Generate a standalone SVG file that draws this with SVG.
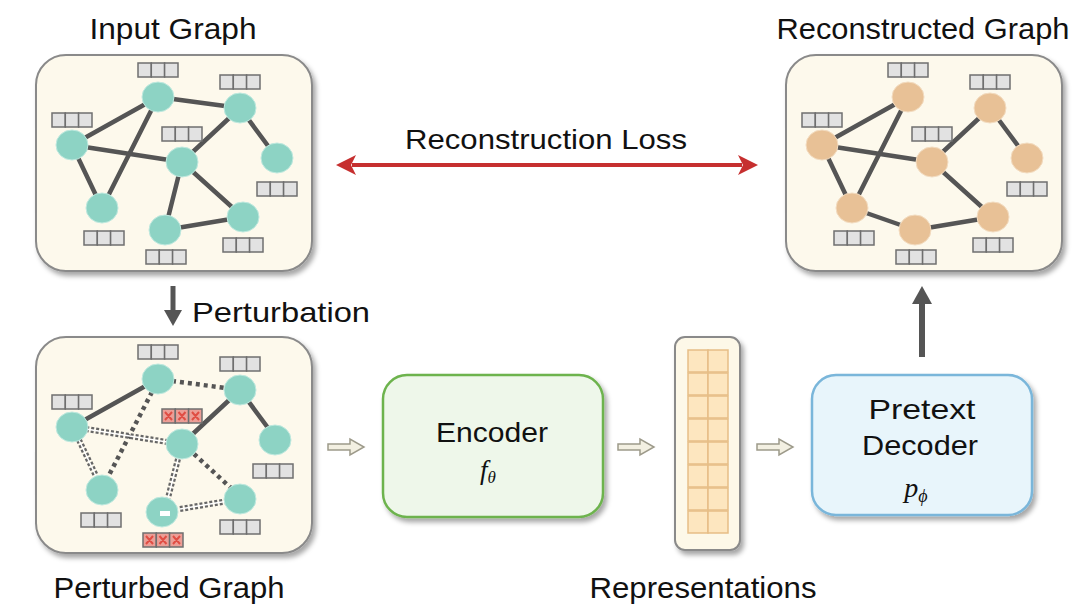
<svg xmlns="http://www.w3.org/2000/svg" xmlns:xlink="http://www.w3.org/1999/xlink" width="1076" height="605" viewBox="0 0 1076 605">
<style>
  .title { font-family: "Comic Sans MS", "Liberation Sans", sans-serif; font-size: 29px; fill: #111; text-anchor: middle; }
  .lbl { font-family: "Comic Sans MS", "Liberation Sans", sans-serif; font-size: 28px; fill: #111; text-anchor: middle; }
  .panel { fill: #fdf9ec; stroke: #8a8a8a; stroke-width: 2; filter: url(#shadow); }
  .edge { stroke: #555; stroke-width: 4.5; stroke-linecap: round; fill: none; }
  .dot { stroke: #555; stroke-width: 4.5; stroke-dasharray: 4 4; fill: none; }
  .hatch { stroke: #666; stroke-width: 6; stroke-dasharray: 3 2; fill: none; }
  .hatchw { stroke: #fff; stroke-width: 1.5; fill: none; }
  .tn { fill: #8dd3c4; stroke: #bfe9df; stroke-width: 1; }
  .on { fill: #e8c196; stroke: #f3dcc0; stroke-width: 1; }
  .cell { fill: #e2e2e2; stroke: #6f6f6f; stroke-width: 1.5; }
  .xcell { fill: #ec9e96; stroke: #6f6f6f; stroke-width: 1.5; }
  .xm { stroke: #e04e44; stroke-width: 2; }
  .hollow { fill: #f3f0e2; stroke: #9d9a8a; stroke-width: 1.5; }
  .rcell { fill: #fde6bf; stroke: #e6bd86; stroke-width: 1.5; }
</style>
<defs>
  <filter id="shadow" x="-10%" y="-10%" width="125%" height="125%">
    <feDropShadow dx="3" dy="4" stdDeviation="2.5" flood-color="#000" flood-opacity="0.35"/>
  </filter>
  <g id="feat">
    <rect class="cell" x="0" y="0" width="13.3" height="14"/>
    <rect class="cell" x="13.3" y="0" width="13.3" height="14"/>
    <rect class="cell" x="26.6" y="0" width="13.4" height="14"/>
  </g>
  <g id="featx">
    <rect class="xcell" x="0" y="0" width="13.3" height="14"/>
    <rect class="xcell" x="13.3" y="0" width="13.3" height="14"/>
    <rect class="xcell" x="26.6" y="0" width="13.4" height="14"/>
    <path class="xm" d="M3,3 L10,11 M10,3 L3,11 M16.5,3 L23.5,11 M23.5,3 L16.5,11 M30,3 L37,11 M37,3 L30,11"/>
  </g>
  <path id="harrow" class="hollow" d="M0,-3 H22 V-8 L36,0 L22,8 V3 H0 Z"/>
  <marker id="redhead" viewBox="0 0 10 10" refX="2" refY="5" markerWidth="5" markerHeight="5" orient="auto-start-reverse">
    <path d="M0,0 L10,5 L0,10 L2.5,5 Z" fill="#c62f2f"/>
  </marker>
</defs>

<rect width="1076" height="605" fill="#ffffff"/>

<!-- Titles -->
<text class="title" x="173" y="39" textLength="167" lengthAdjust="spacingAndGlyphs">Input Graph</text>
<text class="title" x="923" y="39" textLength="293" lengthAdjust="spacingAndGlyphs">Reconstructed Graph</text>
<text class="title" x="169" y="598" textLength="231" lengthAdjust="spacingAndGlyphs">Perturbed Graph</text>
<text class="title" x="703" y="598" textLength="227" lengthAdjust="spacingAndGlyphs">Representations</text>

<!-- Input Graph -->
<g id="input-graph">
  <rect class="panel" x="36" y="55" width="276" height="216" rx="30"/>
  <g id="input-edges">
    <line class="edge" x1="158" y1="97" x2="240" y2="108"/>
    <line class="edge" x1="158" y1="97" x2="72" y2="145"/>
    <line class="edge" x1="158" y1="97" x2="102" y2="208"/>
    <line class="edge" x1="72" y1="145" x2="182" y2="162"/>
    <line class="edge" x1="72" y1="145" x2="102" y2="208"/>
    <line class="edge" x1="182" y1="162" x2="240" y2="108"/>
    <line class="edge" x1="182" y1="162" x2="165" y2="230"/>
    <line class="edge" x1="182" y1="162" x2="243" y2="217"/>
    <line class="edge" x1="240" y1="108" x2="277" y2="158"/>
    <line class="edge" x1="165" y1="230" x2="243" y2="217"/>
  </g>
  <g id="in-A"><ellipse class="tn" cx="158" cy="97" rx="16" ry="15"/><use href="#feat" x="138" y="63"/></g>
  <g id="in-B"><ellipse class="tn" cx="240" cy="108" rx="16" ry="15"/><use href="#feat" x="220" y="75"/></g>
  <g id="in-C"><ellipse class="tn" cx="72" cy="145" rx="16" ry="15"/><use href="#feat" x="52" y="113"/></g>
  <g id="in-D"><ellipse class="tn" cx="182" cy="162" rx="16" ry="15"/><use href="#feat" x="162" y="127"/></g>
  <g id="in-E"><ellipse class="tn" cx="277" cy="158" rx="16" ry="15"/><use href="#feat" x="257" y="182"/></g>
  <g id="in-F"><ellipse class="tn" cx="102" cy="208" rx="16" ry="15"/><use href="#feat" x="84" y="231"/></g>
  <g id="in-G"><ellipse class="tn" cx="165" cy="230" rx="16" ry="15"/><use href="#feat" x="146" y="250"/></g>
  <g id="in-H"><ellipse class="tn" cx="243" cy="217" rx="16" ry="15"/><use href="#feat" x="223" y="238"/></g>
</g>

<!-- Reconstructed Graph -->
<g id="reconstructed-graph" transform="translate(750,0)">
  <rect class="panel" x="36" y="55" width="276" height="216" rx="30"/>
  <g id="rec-edges">
    <line class="edge" x1="158" y1="97" x2="72" y2="145"/>
    <line class="edge" x1="158" y1="97" x2="102" y2="208"/>
    <line class="edge" x1="72" y1="145" x2="182" y2="162"/>
    <line class="edge" x1="72" y1="145" x2="102" y2="208"/>
    <line class="edge" x1="182" y1="162" x2="240" y2="108"/>
    <line class="edge" x1="182" y1="162" x2="243" y2="217"/>
    <line class="edge" x1="240" y1="108" x2="277" y2="158"/>
    <line class="edge" x1="102" y1="208" x2="165" y2="230"/>
    <line class="edge" x1="165" y1="230" x2="243" y2="217"/>
  </g>
  <g id="rec-A"><ellipse class="on" cx="158" cy="97" rx="16" ry="15"/><use href="#feat" x="138" y="63"/></g>
  <g id="rec-B"><ellipse class="on" cx="240" cy="108" rx="16" ry="15"/><use href="#feat" x="220" y="75"/></g>
  <g id="rec-C"><ellipse class="on" cx="72" cy="145" rx="16" ry="15"/><use href="#feat" x="52" y="113"/></g>
  <g id="rec-D"><ellipse class="on" cx="182" cy="162" rx="16" ry="15"/><use href="#feat" x="162" y="127"/></g>
  <g id="rec-E"><ellipse class="on" cx="277" cy="158" rx="16" ry="15"/><use href="#feat" x="257" y="182"/></g>
  <g id="rec-F"><ellipse class="on" cx="102" cy="208" rx="16" ry="15"/><use href="#feat" x="84" y="231"/></g>
  <g id="rec-G"><ellipse class="on" cx="165" cy="230" rx="16" ry="15"/><use href="#feat" x="146" y="250"/></g>
  <g id="rec-H"><ellipse class="on" cx="243" cy="217" rx="16" ry="15"/><use href="#feat" x="223" y="238"/></g>
</g>

<!-- Perturbed Graph -->
<g id="perturbed-graph" transform="translate(0,282)">
  <rect class="panel" x="36" y="55" width="276" height="216" rx="30"/>
  <g id="pert-edges">
    <line class="edge" x1="158" y1="97" x2="72" y2="145"/>
    <line class="edge" x1="182" y1="162" x2="240" y2="108"/>
    <line class="edge" x1="240" y1="108" x2="277" y2="158"/>
    <line class="dot" x1="172" y1="99" x2="226" y2="106"/>
    <line class="dot" x1="152" y1="110" x2="108" y2="195"/>
    <line class="dot" x1="194" y1="172" x2="232" y2="207"/>
    <line class="hatch" x1="86" y1="147" x2="167" y2="160"/>
    <line class="hatchw" x1="86" y1="147" x2="167" y2="160"/>
    <line class="hatch" x1="79" y1="158" x2="96" y2="194"/>
    <line class="hatchw" x1="79" y1="158" x2="96" y2="194"/>
    <line class="hatch" x1="178" y1="177" x2="168" y2="216"/>
    <line class="hatchw" x1="178" y1="177" x2="168" y2="216"/>
    <line class="hatch" x1="180" y1="227" x2="228" y2="219"/>
    <line class="hatchw" x1="180" y1="227" x2="228" y2="219"/>
  </g>
  <g id="pert-A"><ellipse class="tn" cx="158" cy="97" rx="16" ry="15"/><use href="#feat" x="138" y="63"/></g>
  <g id="pert-B"><ellipse class="tn" cx="240" cy="108" rx="16" ry="15"/><use href="#feat" x="220" y="75"/></g>
  <g id="pert-C"><ellipse class="tn" cx="72" cy="145" rx="16" ry="15"/><use href="#feat" x="52" y="113"/></g>
  <g id="pert-D"><ellipse class="tn" cx="182" cy="162" rx="16" ry="15"/><use href="#featx" x="162" y="127"/></g>
  <g id="pert-E"><ellipse class="tn" cx="275" cy="158" rx="16" ry="15"/><use href="#feat" x="253" y="182"/></g>
  <g id="pert-F"><ellipse class="tn" cx="102" cy="208" rx="16" ry="15"/><use href="#feat" x="81" y="231"/></g>
  <g id="pert-G"><ellipse class="tn" cx="162" cy="230" rx="16" ry="15"/><rect x="160" y="229" width="10" height="5" fill="#fff"/><use href="#featx" x="143" y="251"/></g>
  <g id="pert-H"><ellipse class="tn" cx="240" cy="217" rx="16" ry="15"/><use href="#feat" x="220" y="238"/></g>
</g>

<!-- Encoder -->
<g id="encoder">
  <rect x="383" y="375" width="220" height="142" rx="24" fill="#eef7ea" stroke="#6db34e" stroke-width="2.5" filter="url(#shadow)"/>
  <text class="lbl" x="492" y="442" textLength="112" lengthAdjust="spacingAndGlyphs">Encoder</text>
  <text x="488" y="479" font-family="Liberation Serif, serif" font-style="italic" font-size="27" text-anchor="middle" fill="#111">f<tspan font-size="17" dy="4">θ</tspan></text>
</g>

<!-- Representations -->
<g id="representations">
  <rect x="675" y="337" width="65" height="213" rx="10" fill="#fdf8e8" stroke="#8a8a8a" stroke-width="2" filter="url(#shadow)"/>
  <g>
    <rect class="rcell" x="688" y="350" width="20" height="22"/><rect class="rcell" x="708" y="350" width="20" height="22"/>
    <rect class="rcell" x="688" y="373" width="20" height="22"/><rect class="rcell" x="708" y="373" width="20" height="22"/>
    <rect class="rcell" x="688" y="396" width="20" height="22"/><rect class="rcell" x="708" y="396" width="20" height="22"/>
    <rect class="rcell" x="688" y="419" width="20" height="22"/><rect class="rcell" x="708" y="419" width="20" height="22"/>
    <rect class="rcell" x="688" y="442" width="20" height="22"/><rect class="rcell" x="708" y="442" width="20" height="22"/>
    <rect class="rcell" x="688" y="465" width="20" height="22"/><rect class="rcell" x="708" y="465" width="20" height="22"/>
    <rect class="rcell" x="688" y="488" width="20" height="22"/><rect class="rcell" x="708" y="488" width="20" height="22"/>
    <rect class="rcell" x="688" y="511" width="20" height="22"/><rect class="rcell" x="708" y="511" width="20" height="22"/>
  </g>
</g>

<!-- Pretext Decoder -->
<g id="decoder">
  <rect x="812" y="375" width="220" height="140" rx="24" fill="#e8f5fb" stroke="#7ab6da" stroke-width="2.5" filter="url(#shadow)"/>
  <text class="lbl" x="922" y="419" textLength="107" lengthAdjust="spacingAndGlyphs">Pretext</text>
  <text class="lbl" x="920" y="455" textLength="116" lengthAdjust="spacingAndGlyphs">Decoder</text>
  <text x="916" y="497" font-family="Liberation Serif, serif" font-style="italic" font-size="28" text-anchor="middle" fill="#111">p<tspan font-size="18" dy="5">ϕ</tspan></text>
</g>

<!-- Connectors -->
<g id="connectors">
  <line x1="352" y1="165" x2="742" y2="165" stroke="#c62f2f" stroke-width="4" marker-start="url(#redhead)" marker-end="url(#redhead)"/>
  <text class="lbl" x="546" y="149" textLength="282" lengthAdjust="spacingAndGlyphs">Reconstruction Loss</text>
  <line x1="173" y1="286" x2="173" y2="312" stroke="#555" stroke-width="5"/>
  <polygon points="164,310 182,310 173,326" fill="#555"/>
  <text class="lbl" x="281" y="322" textLength="178" lengthAdjust="spacingAndGlyphs">Perturbation</text>
  <line x1="922" y1="357" x2="922" y2="300" stroke="#555" stroke-width="6"/>
  <polygon points="912,304 932,304 922,286" fill="#555"/>
  <use href="#harrow" x="328" y="447"/>
  <use href="#harrow" x="618" y="447"/>
  <use href="#harrow" x="757" y="447"/>
</g>
</svg>
